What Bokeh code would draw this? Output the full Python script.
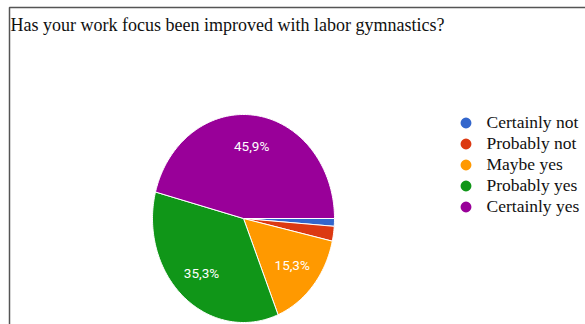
import numpy as np
from bokeh.plotting import figure
from bokeh.models import ColumnDataSource, Range1d, Legend, LegendItem, Label, BoxAnnotation
from bokeh.core.properties import value
from bokeh.embed import file_html
from bokeh.resources import INLINE

# ---- data ----
title_text = "Has your work focus been improved with labor gymnastics?"
categories = ["Certainly not", "Probably not", "Maybe yes", "Probably yes", "Certainly yes"]
percents = [1.2, 2.3, 15.3, 35.3, 45.9]
colors = ["#3366cc", "#dc3912", "#ff9900", "#109618", "#990099"]
label_threshold = 5.0

# ---- layout (pixels) ----
W, H = 585, 324
CX, CY = 243, 218      # pie centre within the canvas (from top-left)
RX, RY = 91, 104       # pie radii in pixels (slightly elliptical)

p = figure(width=W, height=H, output_backend="svg", toolbar_location=None,
           min_border=0, x_axis_location=None, y_axis_location=None,
           x_range=Range1d(-CX / RX, (W - CX) / RX),
           y_range=Range1d(-(H - CY) / RY, CY / RY))
p.grid.visible = False
p.outline_line_color = None
p.background_fill_color = "white"
p.border_fill_color = "white"

# border box (left and top edges visible, the rest runs off the canvas)
p.add_layout(BoxAnnotation(left=9, top=H - 7, right=W + 20, bottom=-20,
                           left_units="screen", top_units="screen",
                           right_units="screen", bottom_units="screen",
                           fill_alpha=0, line_color="#555555", line_alpha=1.0,
                           line_width=1.5))

# ---- slices ----
vals = np.array(percents, dtype=float)
fr = vals / vals.sum()
cum = np.concatenate([[0.0], np.cumsum(fr)])
xs, ys = [], []
for i in range(len(vals)):
    a0 = -2 * np.pi * cum[i]
    a1 = -2 * np.pi * cum[i + 1]
    n = max(4, int(abs(a1 - a0) / (2 * np.pi) * 360))
    t = np.linspace(a0, a1, n)
    xs.append(np.concatenate([[0.0], np.cos(t), [0.0]]).tolist())
    ys.append(np.concatenate([[0.0], np.sin(t), [0.0]]).tolist())

# legend marker renderers (not drawn in plot area)
items = []
for cat, col in zip(categories, colors):
    r = p.scatter(x=np.array([np.nan]), y=np.array([np.nan]), marker="circle",
                  size=10, fill_color=col, line_color=col, line_width=2.5)
    items.append(LegendItem(label=cat, renderers=[r]))

src = ColumnDataSource(dict(xs=xs, ys=ys, color=colors, cat=categories))
p.patches("xs", "ys", source=src, fill_color="color", line_color="white", line_width=1)

# ---- percentage labels ----
mid = -2 * np.pi * (cum[:-1] + fr / 2)
lr = 0.70
lx, ly, lt = [], [], []
for i, v in enumerate(percents):
    if v >= label_threshold:
        lx.append(lr * np.cos(mid[i]))
        ly.append(lr * np.sin(mid[i]))
        lt.append(f"{v:.1f}".replace(".", ",") + "%")
p.text(x=lx, y=ly, text=lt, text_color="white", text_font=value("Roboto"),
       text_font_size="13.5px", text_align="center", text_baseline="middle")

# ---- title ----
p.add_layout(Label(x=10, y=H - 24, x_units="screen", y_units="screen", text=title_text,
                   text_font="Liberation Serif", text_font_size="18px",
                   text_color="#111111", text_baseline="alphabetic"))

# ---- legend ----
legend = Legend(items=items, location=(454.5, 107.5), orientation="vertical",
                glyph_width=21, glyph_height=21, label_height=21, spacing=0,
                padding=0, margin=0, border_line_color=None, background_fill_alpha=0,
                label_text_font="Liberation Serif", label_text_font_size="17.5px",
                label_text_color="#111111", label_standoff=11)
p.add_layout(legend)

open("out.html", "w").write(file_html(p, INLINE))
